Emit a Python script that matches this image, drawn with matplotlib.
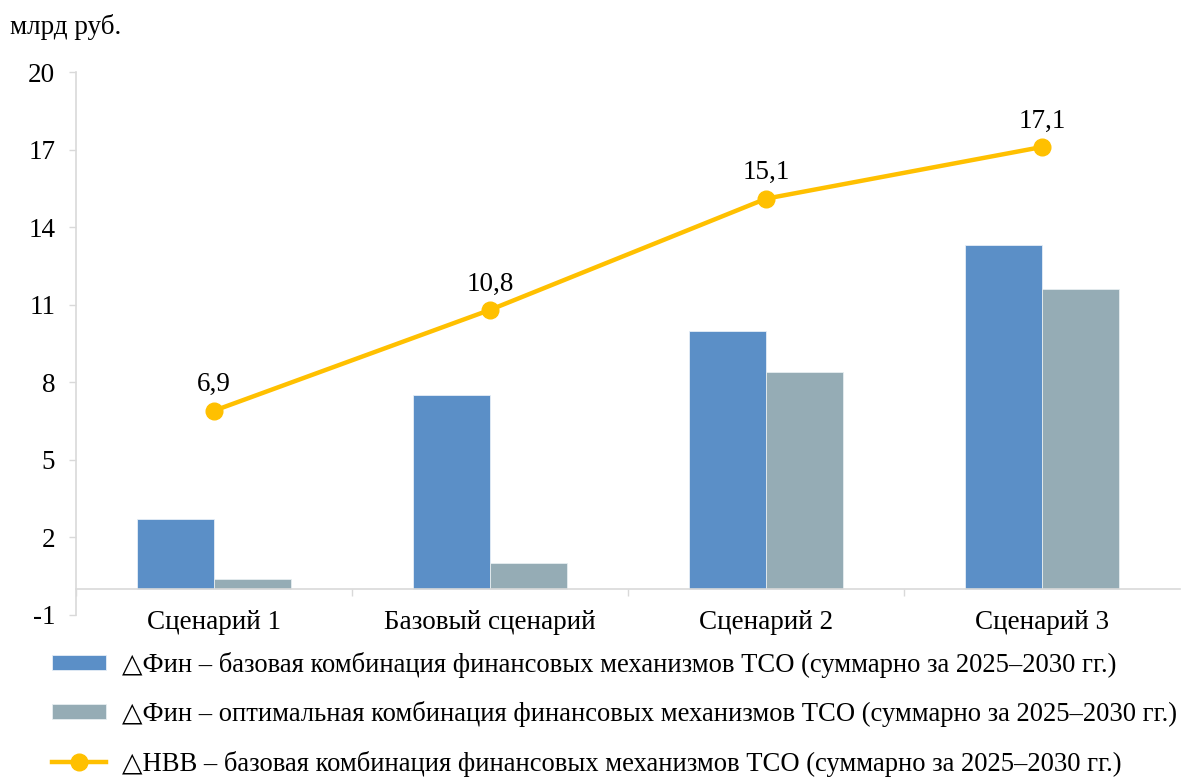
import numpy as np
import matplotlib.pyplot as plt
from matplotlib.ticker import FixedLocator

plt.rcParams['font.family'] = ['Liberation Serif', 'DejaVu Serif']
plt.rcParams['axes.unicode_minus'] = False

categories = ['Сценарий 1', 'Базовый сценарий', 'Сценарий 2', 'Сценарий 3']
fin_base = [2.7, 7.5, 10.0, 13.3]   # ΔФин базовая комбинация
fin_opt = [0.4, 1.0, 8.4, 11.6]     # ΔФин оптимальная комбинация
nvv = [6.9, 10.8, 15.1, 17.1]       # ΔНВВ
yticks = [-1, 2, 5, 8, 11, 14, 17, 20]

lab_base = '△Фин – базовая комбинация финансовых механизмов ТСО (суммарно за 2025–2030 гг.)'
lab_opt = '△Фин – оптимальная комбинация финансовых механизмов ТСО (суммарно за 2025–2030 гг.)'
lab_nvv = '△НВВ – базовая комбинация финансовых механизмов ТСО (суммарно за 2025–2030 гг.)'

blue = '#5B8FC7'
grey = '#95ACB5'
gold = '#FFC000'
axis_col = '#D9D9D9'

fig = plt.figure(figsize=(11.87, 7.78), dpi=100)
ax = fig.add_axes([76 / 1187, 1 - 615 / 778, (1180 - 76) / 1187, (615 - 72) / 778])

x = np.arange(len(categories))
w = 0.28
b1 = ax.bar(x - w / 2, fin_base, w, color=blue, edgecolor='#E6EEF7', linewidth=0.6, zorder=2)
b2 = ax.bar(x + w / 2, fin_opt, w, color=grey, edgecolor='#E6EEF0', linewidth=0.6, zorder=2)
ln, = ax.plot(x, nvv, '-o', color=gold, linewidth=3.2, markersize=12, zorder=3)

for xi, v in zip(x, nvv):
    ax.annotate(f'{v:.1f}'.replace('.', ','), (xi, v), xytext=(0, 14),
                textcoords='offset points', ha='center', va='baseline', fontsize=19.5)

ax.set_xlim(-0.5, 3.5)
ax.set_ylim(-1, 20)
ax.set_yticks(yticks)
ax.tick_params(axis='y', length=5, width=1, color=axis_col, pad=10, labelsize=19.5)

ax.spines['bottom'].set_position(('data', 0))
ax.set_xticks(x)
ax.set_xticklabels(categories)
ax.xaxis.set_minor_locator(FixedLocator([-0.5, 0.5, 1.5, 2.5]))
ax.tick_params(axis='x', which='major', length=0, pad=15, labelsize=19.5)
ax.tick_params(axis='x', which='minor', length=5, width=1, color=axis_col)

for s in ['top', 'right']:
    ax.spines[s].set_visible(False)
for s in ['left', 'bottom']:
    ax.spines[s].set_color(axis_col)
    ax.spines[s].set_linewidth(1.2)

fig.text(10 / 1187, 1 - 27 / 778, 'млрд руб.', fontsize=19.5, va='center', ha='left')

fig.legend([b1, b2, ln], [lab_base, lab_opt, lab_nvv], loc='upper left',
           bbox_to_anchor=(41 / 1187, 1 - 641 / 778),
           frameon=False, fontsize=19.2, handlelength=2.05, handleheight=0.5,
           labelspacing=0.88, handletextpad=0.6, borderaxespad=0)

plt.savefig('out.png', dpi=100)
